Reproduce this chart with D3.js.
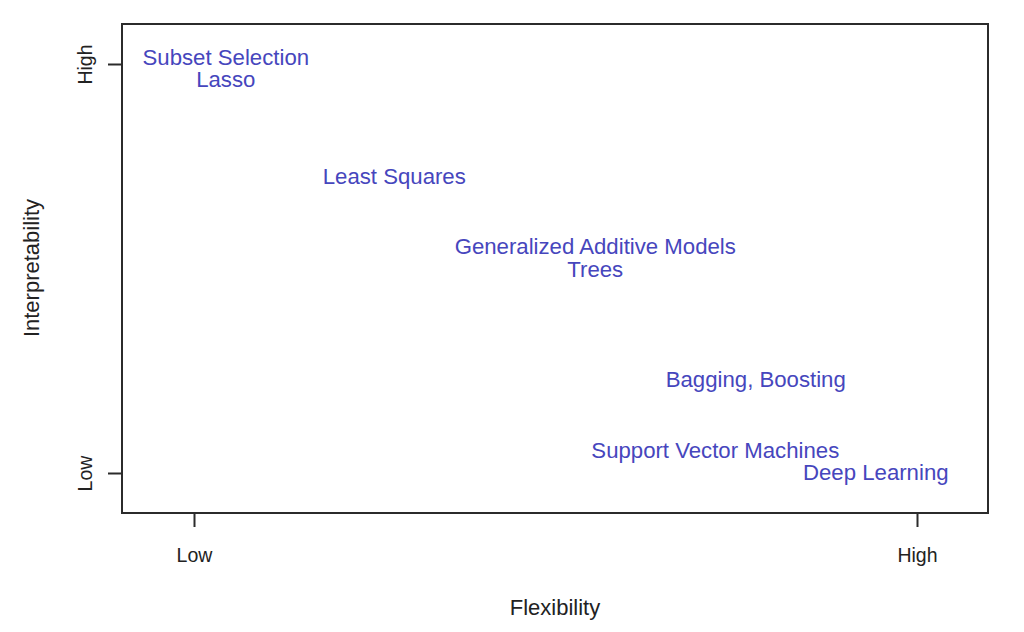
<!DOCTYPE html>
<html>
<head>
<meta charset="utf-8">
<script src="https://cdn.jsdelivr.net/npm/d3@7"></script>
<style>
  body { margin: 0; background: #fff; }
  text { font-family: "Liberation Sans", Arial, sans-serif; }
</style>
</head>
<body>
<div id="chart"></div>
<script>
// Method names and their place on the flexibility / interpretability plane
var methods = ["Subset Selection", "Lasso", "Least Squares", "Generalized Additive Models",
               "Trees", "Bagging, Boosting", "Support Vector Machines", "Deep Learning"];
var flexibility = [0.044, 0.044, 0.277, 0.555, 0.555, 0.777, 0.721, 0.943];
var interpretability = [1.017, 0.961, 0.725, 0.554, 0.498, 0.228, 0.056, 0.002];

var tickValues = [0, 1];
var tickLabels = ["Low", "High"];

var w = 1024;
var h = 632;

var svg = d3.select("#chart")
    .append("svg")
    .attr("width", w)
    .attr("height", h);

//Box edges
var box = {left: 122, right: 988, top: 24, bottom: 513};

var x = d3.scaleLinear().domain([0, 1]).range([194, 917]);
var y = d3.scaleLinear().domain([0, 1]).range([473, 64]);

var ink = "#2b2b2b";

svg.append("rect")
  .attr("x", box.left)
  .attr("y", box.top)
  .attr("width", box.right - box.left)
  .attr("height", box.bottom - box.top)
  .attr("fill", "none")
  .attr("stroke", ink)
  .attr("stroke-width", 2);

//x axis: ticks under the box
var xAxis = d3.axisBottom(x)
  .tickValues(tickValues)
  .tickFormat(function(d, i) { return tickLabels[i]; })
  .tickSize(14)
  .tickPadding(21);

var gx = svg.append("g")
  .attr("transform", "translate(0," + box.bottom + ")")
  .call(xAxis);
gx.select(".domain").remove();

//y axis: ticks left of the box, labels turned
var yAxis = d3.axisLeft(y)
  .tickValues(tickValues)
  .tickFormat(function(d, i) { return tickLabels[i]; })
  .tickSize(14)
  .tickPadding(10);

var gy = svg.append("g")
  .attr("transform", "translate(" + box.left + ",0)")
  .call(yAxis);
gy.select(".domain").remove();

gx.selectAll("line").attr("stroke", ink).attr("stroke-width", 2);
gy.selectAll("line").attr("stroke", ink).attr("stroke-width", 2);

gx.selectAll("text")
  .attr("font-size", 19.5)
  .attr("fill", "#222")
  .attr("font-family", "Liberation Sans, Arial, sans-serif");

gy.selectAll("text")
  .attr("font-size", 19.5)
  .attr("fill", "#222")
  .attr("font-family", "Liberation Sans, Arial, sans-serif")
  .attr("text-anchor", "middle")
  .attr("x", 0)
  .attr("dy", 0)
  .attr("transform", "translate(-37,0) rotate(-90)")
  .attr("dominant-baseline", "central");

//axis titles
svg.append("text")
  .attr("x", 555)
  .attr("y", 607)
  .attr("text-anchor", "middle")
  .attr("dominant-baseline", "central")
  .attr("font-size", 22)
  .attr("fill", "#222")
  .text("Flexibility");

svg.append("text")
  .attr("transform", "translate(31,268) rotate(-90)")
  .attr("text-anchor", "middle")
  .attr("dominant-baseline", "central")
  .attr("font-size", 22)
  .attr("fill", "#222")
  .text("Interpretability");

//method labels
svg.selectAll("text.method")
  .data(methods)
  .enter()
  .append("text")
  .attr("class", "method")
  .attr("x", function(d, i) { return x(flexibility[i]); })
  .attr("y", function(d, i) { return y(interpretability[i]); })
  .attr("text-anchor", "middle")
  .attr("dominant-baseline", "central")
  .attr("font-size", 22.2)
  .attr("fill", "#4646bd")
  .text(function(d) { return d; });
</script>
</body>
</html>
